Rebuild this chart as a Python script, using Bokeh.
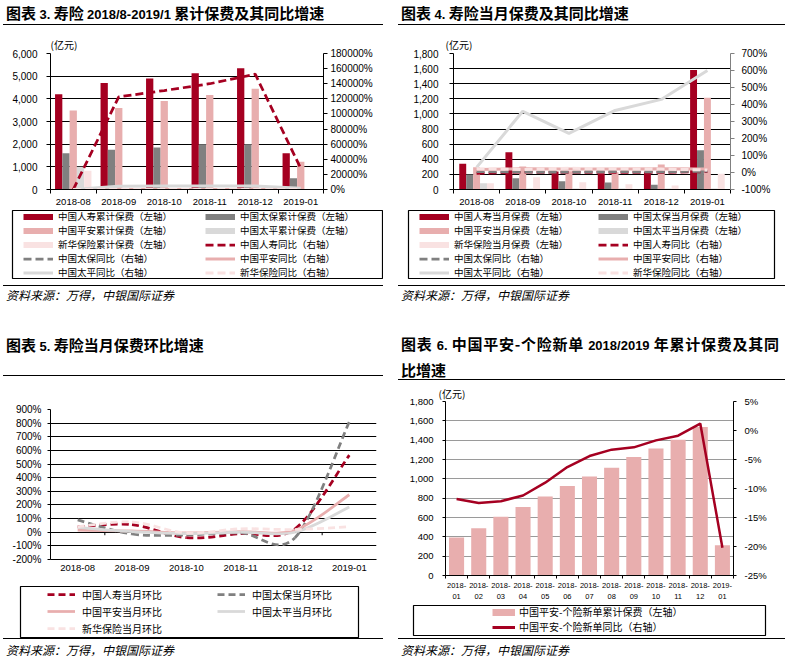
from bokeh.plotting import figure
from bokeh.models import (Range1d, LinearAxis, FixedTicker, SingleIntervalTicker,
                          NumeralTickFormatter, PrintfTickFormatter, Legend, LegendItem,
                          Div, Spacer, ColumnDataSource)
from bokeh.layouts import row, column
from bokeh.embed import file_html
from bokeh.resources import INLINE

# ---------------- data ----------------
months = ["2018-08", "2018-09", "2018-10", "2018-11", "2018-12", "2019-01"]

# 图表3: 累计保费 (亿元), 同比 (%)
rs_cum = [4200, 4700, 4900, 5130, 5350, 1600]
tb_cum = [1600, 1750, 1850, 2000, 2000, 500]
pa_cum = [3480, 3600, 3900, 4170, 4450, 1220]
tp_cum = [1000, 0, 0, 0, 0, 0]
xh_cum = [830, 0, 0, 0, 0, 0]
rs_cum_yoy = [0, 122600, 131000, 140000, 152600, 28000]
tb_cum_yoy = [10, 20, 15, 20, 20, 30]
pa_cum_yoy = [20, 25, 20, 25, 20, 15]
tp_cum_yoy = [0, 4400, 4600, 4600, 4500, 1500]
xh_cum_yoy = [10, 15, 20, 15, 10, 20]

# 图表4: 当月保费 (亿元), 同比 (%)
rs_mon = [340, 494, 238, 208, 229, 1580]
tb_mon = [198, 150, 110, 93, 62, 520]
pa_mon = [295, 304, 240, 229, 331, 1213]
tp_mon = [84, 13, 13, 13, 13, 13]
xh_mon = [84, 163, 97, 70, 53, 208]
rs_mon_yoy = [-5, 2, 0, 1, 0, 5]
tb_mon_yoy = [5, 3, 2, 5, 3, 8]
pa_mon_yoy = [18, 22, 20, 20, 22, 20]
tp_mon_yoy = [30, 360, 230, 365, 430, 600]
xh_mon_yoy = [22, 18, 25, 22, 20, 15]

# 图表5: 当月环比 (%)
rs_mom = [40, 55, -40, -10, 25, 565]
tb_mom = [90, -13, -20, -5, -40, 810]
pa_mom = [15, 10, -5, 5, 15, 275]
tp_mom = [35, 5, -10, 0, 0, 185]
xh_mom = [40, 75, -5, 25, 20, 40]

# 图表6: 中国平安-个险新单
months6 = ["2018-01", "2018-02", "2018-03", "2018-04", "2018-05", "2018-06", "2018-07",
           "2018-08", "2018-09", "2018-10", "2018-11", "2018-12", "2019-01"]
pa_new_cum = [394, 489, 607, 708, 816, 927, 1025, 1115, 1227, 1314, 1405, 1537, 313]
pa_new_yoy = [-11.8, -12.5, -12.2, -11.2, -9.0, -6.3, -4.4, -3.3, -2.9, -1.7, -0.9, 1.2, -20.2]

# ---------------- style ----------------
RED = "#A50021"
GRAY = "#808080"
PINK = "#E8AEAE"
LGRAY = "#D9D9D9"
LPINK = "#F9E2E2"
TICK_FONT = "Liberation Sans"
CJK = "Noto Sans CJK SC"
NAN = float("nan")


def setup_fig(w, h, bl, br, bt, bb, n, y0, y1):
    p = figure(width=w, height=h, x_range=Range1d(0, n), y_range=Range1d(y0, y1),
               min_border_left=bl, min_border_right=br, min_border_top=bt, min_border_bottom=bb,
               toolbar_location=None, tools="", output_backend="svg", x_axis_location=None,
               frame_align=False)
    p.outline_line_color = None
    p.xgrid.visible = False
    p.background_fill_color = "white"
    p.border_fill_color = "white"
    return p


def style_y(p, interval, fmt, tick_out, standoff, font_size, grid_color="black"):
    ax = p.yaxis[0]
    ax.ticker = SingleIntervalTicker(interval=interval, num_minor_ticks=0)
    ax.formatter = fmt
    ax.major_tick_out = tick_out
    ax.major_tick_in = 0
    ax.minor_tick_line_color = None
    ax.axis_line_color = "black"
    ax.major_tick_line_color = "black"
    ax.major_label_standoff = standoff
    ax.major_label_text_font = TICK_FONT
    ax.major_label_text_font_size = font_size
    ax.major_label_text_color = "black"
    p.ygrid.grid_line_color = grid_color
    p.ygrid.grid_line_width = 1


def add_right(p, y0, y1, interval, tick_out, standoff, font_size, color="black"):
    p.extra_y_ranges = {"r": Range1d(y0, y1)}
    ax = LinearAxis(y_range_name="r",
                    ticker=SingleIntervalTicker(interval=interval, num_minor_ticks=0),
                    formatter=PrintfTickFormatter(format="%d%%"),
                    major_tick_out=tick_out, major_tick_in=0,
                    minor_tick_line_color=None,
                    axis_line_color=color, major_tick_line_color=color,
                    major_label_standoff=standoff,
                    major_label_text_font=TICK_FONT, major_label_text_font_size=font_size,
                    major_label_text_color="black")
    p.add_layout(ax, "right")


def add_x(p, labels, font_size, standoff, minor_out, line_height=1.2):
    n = len(labels)
    centers = [i + 0.5 for i in range(n)]
    ax = LinearAxis(ticker=FixedTicker(ticks=centers,
                                       minor_ticks=list(range(n + 1)) if minor_out else []),
                    major_label_overrides={c: lab for c, lab in zip(centers, labels)},
                    major_tick_line_color=None, major_tick_out=0, major_tick_in=0,
                    minor_tick_out=minor_out, minor_tick_in=0,
                    minor_tick_line_color="black" if minor_out else None,
                    axis_line_color="black",
                    major_label_standoff=standoff,
                    major_label_text_font=TICK_FONT, major_label_text_font_size=font_size,
                    major_label_text_color="black",
                    major_label_text_line_height=line_height)
    p.add_layout(ax, "below")


def unit_title(p, offset, standoff):
    p.title.text = "(亿元)"
    p.title.text_font = CJK
    p.title.text_font_size = "10px"
    p.title.text_font_style = "normal"
    p.title.text_color = "black"
    p.title.align = "left"
    p.title.offset = offset
    p.title.standoff = standoff


def bars(p, series, bw):
    k0 = (len(series) - 1) / 2
    out = []
    for k, (vals, color) in enumerate(series):
        xs = [i + 0.5 + (k - k0) * bw for i in range(len(vals))]
        out.append(p.vbar(x=xs, top=vals, width=bw, fill_color=color, line_color=None))
    return out


def lines(p, series, rname):
    out = []
    for vals, color, width, dash in series:
        xs = [i + 0.5 for i in range(len(vals))]
        out.append(p.line(xs, vals, y_range_name=rname, line_color=color,
                          line_width=width, line_dash=dash))
    return out


def bezier_rows(xs, ys):
    n = len(xs)
    d = dict(x0=[], y0=[], x1=[], y1=[], cx0=[], cy0=[], cx1=[], cy1=[])
    for i in range(n - 1):
        xp, yp = (xs[i - 1], ys[i - 1]) if i > 0 else (xs[i], ys[i])
        xn, yn = (xs[i + 2], ys[i + 2]) if i + 2 < n else (xs[i + 1], ys[i + 1])
        d["x0"].append(xs[i]); d["y0"].append(ys[i])
        d["x1"].append(xs[i + 1]); d["y1"].append(ys[i + 1])
        d["cx0"].append(xs[i] + (xs[i + 1] - xp) / 6); d["cy0"].append(ys[i] + (ys[i + 1] - yp) / 6)
        d["cx1"].append(xs[i + 1] - (xn - xs[i]) / 6); d["cy1"].append(ys[i + 1] - (yn - ys[i]) / 6)
    return d


def smooth(p, vals, color, width, dash):
    xs = [i + 0.5 for i in range(len(vals))]
    src = ColumnDataSource(bezier_rows(xs, vals))
    return p.bezier(x0="x0", y0="y0", x1="x1", y1="y1", cx0="cx0", cy0="cy0",
                    cx1="cx1", cy1="cy1", source=src, line_color=color,
                    line_width=width, line_dash=dash)


def legend_fig(w, h, bl, br, bt, bb, entries, ncols, vx, vy, font_size, lh, gw,
               standoff, lw, spacing=0):
    """Framed legend block placed under a chart; the frame outline is the legend box."""
    p = figure(width=w, height=h, x_range=Range1d(0, 1), y_range=Range1d(0, 1),
               min_border_left=bl, min_border_right=br, min_border_top=bt, min_border_bottom=bb,
               toolbar_location=None, tools="", output_backend="svg",
               x_axis_location=None, y_axis_location=None, frame_align=False)
    p.xgrid.visible = False
    p.ygrid.visible = False
    p.outline_line_color = "black"
    p.outline_line_width = 1.2
    p.background_fill_color = "white"
    p.border_fill_color = "white"
    items = []
    for label, color, width, dash in entries:
        r = p.line(x=[NAN], y=[NAN], line_color=color, line_width=width, line_dash=dash)
        items.append(LegendItem(label=label, renderers=[r]))
    lg = Legend(items=items, location=(vx, vy), ncols=ncols, orientation="vertical",
                border_line_color=None, background_fill_alpha=0, padding=0, margin=0,
                spacing=spacing, label_height=lh, glyph_height=lh, glyph_width=gw,
                label_standoff=standoff, label_width=lw, label_text_font=CJK,
                label_text_font_size=font_size, label_text_color="black")
    p.add_layout(lg, "center")
    return p


# ---------------- 图表3 ----------------
n = len(months)
p1 = setup_fig(380, 184, 47, 60, 28, 20, n, 0, 6000)
style_y(p1, 1000, NumeralTickFormatter(format="0,0"), 4, 9, "10px")
add_right(p1, 0, 180000, 20000, 4, 3, "10px")
add_x(p1, months, "9.5px", 5, 4)
unit_title(p1, 0, 3)
bars(p1, [(rs_cum, RED), (tb_cum, GRAY), (pa_cum, PINK), (tp_cum, LGRAY), (xh_cum, LPINK)], 0.16)
lines(p1, [(rs_cum_yoy, RED, 2.75, "8 4"), (tb_cum_yoy, GRAY, 2.75, "8 4"),
           (pa_cum_yoy, PINK, 3, "solid"), (tp_cum_yoy, LGRAY, 3, "solid"),
           (xh_cum_yoy, LPINK, 3, "8 4")], "r")
leg1 = legend_fig(380, 76, 9, 1, 1, 7, [
    ("中国人寿累计保费（左轴）", RED, 6, "solid"),
    ("中国平安累计保费（左轴）", PINK, 6, "solid"),
    ("新华保险累计保费（左轴）", LPINK, 6, "solid"),
    ("中国太保同比（右轴）", GRAY, 2.75, "8 4"),
    ("中国太平同比（右轴）", LGRAY, 3, "solid"),
    ("中国太保累计保费（左轴）", GRAY, 6, "solid"),
    ("中国太平累计保费（左轴）", LGRAY, 6, "solid"),
    ("中国人寿同比（右轴）", RED, 2.75, "8 4"),
    ("中国平安同比（右轴）", PINK, 3, "solid"),
    ("新华保险同比（右轴）", LPINK, 3, "8 4"),
], 2, 11, -1, "9.5px", 13, 30, 5, 147)

# ---------------- 图表4 ----------------
p2 = setup_fig(387, 184, 55, 55, 28, 20, n, 0, 1800)
style_y(p2, 200, NumeralTickFormatter(format="0,0"), 4, 11, "10px")
add_right(p2, -100, 700, 100, 4, 7, "10px", color=GRAY)
add_x(p2, months, "9.5px", 5, 4)
unit_title(p2, -8, 3)
bars(p2, [(rs_mon, RED), (tb_mon, GRAY), (pa_mon, PINK), (tp_mon, LGRAY), (xh_mon, LPINK)], 0.15)
lines(p2, [(rs_mon_yoy, RED, 2.75, "8 4"), (tb_mon_yoy, GRAY, 2.75, "8 4"),
           (pa_mon_yoy, PINK, 3, "solid"), (tp_mon_yoy, LGRAY, 3, "solid"),
           (xh_mon_yoy, LPINK, 3, "8 4")], "r")
leg2 = legend_fig(387, 76, 10, 11, 1, 7, [
    ("中国人寿当月保费（左轴）", RED, 6, "solid"),
    ("中国平安当月保费（左轴）", PINK, 6, "solid"),
    ("新华保险当月保费（左轴）", LPINK, 6, "solid"),
    ("中国太保同比（右轴）", GRAY, 2.75, "8 4"),
    ("中国太平同比（右轴）", LGRAY, 3, "solid"),
    ("中国太保当月保费（左轴）", GRAY, 6, "solid"),
    ("中国太平当月保费（左轴）", LGRAY, 6, "solid"),
    ("中国人寿同比（右轴）", RED, 2.75, "8 4"),
    ("中国平安同比（右轴）", PINK, 3, "solid"),
    ("新华保险同比（右轴）", LPINK, 3, "8 4"),
], 2, 11, -1, "9.5px", 13, 30, 5, 144)

# ---------------- 图表5 ----------------
FH3 = 150
p3 = setup_fig(380, 200, 47, 7, 33, 17, n, -200, 900)
style_y(p3, 100, PrintfTickFormatter(format="%d%%"), 3, 6, "10px")
add_x(p3, months, "9.5px", 5, 0)
tick_len = 3 * (900 + 200) / FH3
bounds = list(range(1, n))
p3.segment(x0=bounds, y0=[0] * len(bounds), x1=bounds, y1=[-tick_len] * len(bounds),
           line_color="black", line_width=1)
smooth(p3, rs_mom, RED, 2.75, "7 4")
smooth(p3, tb_mom, GRAY, 2.75, "7 4")
smooth(p3, pa_mom, PINK, 2.75, "solid")
smooth(p3, tp_mom, LGRAY, 2.75, "solid")
smooth(p3, xh_mom, LPINK, 2.75, "7 4")
leg3 = legend_fig(380, 62, 17, 25, 10, 0, [
    ("中国人寿当月环比", RED, 2.75, "7 4"),
    ("中国平安当月环比", PINK, 2.75, "solid"),
    ("新华保险当月环比", LPINK, 2.75, "7 4"),
    ("中国太保当月环比", GRAY, 2.75, "7 4"),
    ("中国太平当月环比", LGRAY, 2.75, "solid"),
], 2, 27, 2, "10px", 16, 28, 7, 134, spacing=1)

# ---------------- 图表6 ----------------
n6 = len(months6)
p4 = setup_fig(387, 224, 47, 52, 21, 25, n6, 0, 1800)
style_y(p4, 200, NumeralTickFormatter(format="0,0"), 3, 9, "9.5px", grid_color="#9A9A9A")
add_right(p4, -25, 5, 5, 3, 8, "9.5px")
add_x(p4, [m.replace("-", "-\n") for m in months6], "7.5px", 2, 3, line_height=1.3)
unit_title(p4, -7, 1)
p4.vbar(x=[i + 0.5 for i in range(n6)], top=pa_new_cum, width=0.68,
        fill_color=PINK, line_color=None)
p4.line([i + 0.5 for i in range(n6)], pa_new_yoy, y_range_name="r",
        line_color=RED, line_width=2.5)
leg4 = legend_fig(387, 34, 15, 20, 1, 3, [
    ("中国平安-个险新单累计保费（左轴）", PINK, 7, "solid"),
    ("中国平安-个险新单同比（右轴）", RED, 3, "solid"),
], 1, 79, 1, "10px", 14, 23, 4, 200)

# ---------------- page texts ----------------
T_STYLE = ("box-sizing:border-box;font-family:'Noto Sans CJK SC';font-weight:bold;"
           "font-size:15px;color:#000;border-bottom:1px solid #000;padding-left:3px;")
LAT = "font-family:'Liberation Sans';font-size:13px;font-weight:bold;"
S_STYLE = ("box-sizing:border-box;font-family:'Noto Sans CJK SC';font-style:italic;"
           "font-size:12px;color:#000;border-top:1px solid #000;padding-left:3px;"
           "line-height:14px;white-space:nowrap;")
SOURCE = "资料来源：万得，中银国际证券"


def title_div(w, h, pad_top, inner):
    lh = 24 if h > 30 else 22
    html = (f'<div style="{T_STYLE}width:{w}px;height:{h}px;padding-top:{pad_top}px;'
            f'line-height:{lh}px;white-space:nowrap;">{inner}</div>')
    return Div(text=html, width=w, height=h, margin=0)


def source_div(w, h, pad_top):
    html = f'<div style="{S_STYLE}width:{w}px;height:{h}px;padding-top:{pad_top}px;">{SOURCE}</div>'
    return Div(text=html, width=w, height=h, margin=0)


t1 = title_div(380, 23, 0, f'图表 <span style="{LAT}">3.</span> 寿险 '
               f'<span style="{LAT}">2018/8-2019/1</span> 累计保费及其同比增速')
t2 = title_div(387, 23, 0, f'图表 <span style="{LAT}">4.</span> 寿险当月保费及其同比增速')
t3 = title_div(380, 46, 3, f'图表 <span style="{LAT}">5.</span> 寿险当月保费环比增速')
t4 = title_div(387, 50, 2,
               f'<div style="width:378px;text-align:justify;text-align-last:justify;">'
               f'图表 <span style="{LAT}">6.</span> 中国平安-个险新单 '
               f'<span style="{LAT}">2018/2019</span> 年累计保费及其同</div>'
               f'<div>比增速</div>')

left = column(t1, p1, leg1, source_div(380, 22, 2), Spacer(height=23, width=380),
              t3, p3, leg3, source_div(380, 19, 4), spacing=0)
right = column(t2, p2, leg2, source_div(387, 22, 2), Spacer(height=23, width=387),
               t4, p4, leg4, source_div(387, 19, 4), spacing=0)
root = row(left, Spacer(width=15, height=10), right, spacing=0, margin=(2, 0, 0, 3))

open("out.html", "w").write(file_html(root, INLINE))
